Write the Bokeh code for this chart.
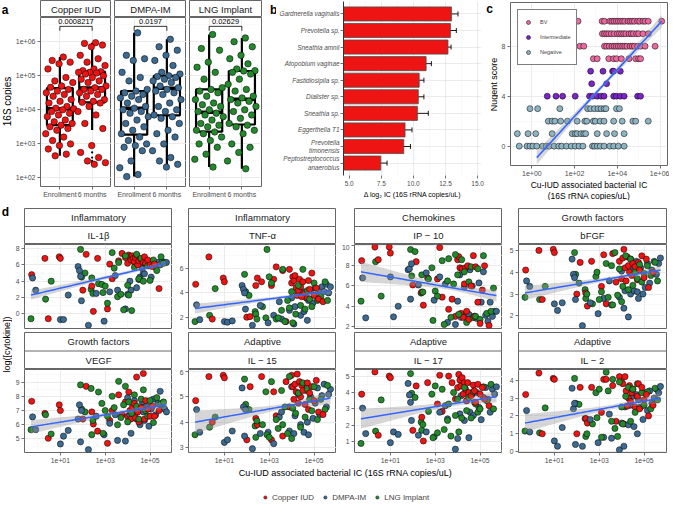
import numpy as np
from bokeh.plotting import figure
from bokeh.layouts import row, column
from bokeh.models import (Range1d, FactorRange, FixedTicker, CustomJSTickFormatter,
                          NumeralTickFormatter, Legend, LegendItem, Whisker,
                          ColumnDataSource)
from bokeh.embed import file_html
from bokeh.resources import INLINE
from bokeh.core.properties import value

FONT = "Liberation Sans"
C_CU, C_DMPA, C_LNG = "#EE1414", "#3C6A90", "#23892C"
C_BV, C_INT, C_NEG = "#E96A9F", "#7A25C8", "#8EB3C2"
BORDER = "#666666"
GRID_MAJ, GRID_MIN = "#E6E6E6", "#F3F3F3"
TICK = "#4D4D4D"
FIT_LINE, FIT_BAND = "#3366FF", "#999999"

# ---------------------------------------------------------------- data
# panel a : log10(16S copies)
groups_a = ["Copper IUD", "DMPA-IM", "LNG Implant"]
timepoints = ["Enrollment", "6 months"]
cu_enr = [5.55, 5.45, 5.4, 5.35, 5.2, 4.95, 4.85, 4.8, 4.7, 4.66, 4.6, 4.55, 4.5, 4.45, 4.4,
          4.3, 4.25, 4.2, 4.1, 4.05, 4.03, 4.0, 3.95, 3.9, 3.85, 3.8, 3.7, 3.65, 3.6, 3.55,
          3.5, 3.45, 3.4, 3.3, 3.2, 3.1, 3.0, 2.95, 2.85, 2.7, 2.65]
cu_6m = [5.97, 5.95, 5.9, 5.85, 5.6, 5.5, 5.4, 5.3, 5.2, 5.15, 5.12, 5.1, 5.1, 5.08, 5.05,
         5.0, 4.95, 4.9, 4.85, 4.8, 4.7, 4.65, 4.6, 4.6, 4.55, 4.5, 4.45, 4.4, 4.3, 4.25,
         4.22, 4.2, 4.1, 3.95, 3.85, 3.6, 3.45, 2.95, 2.75, 2.6, 2.5, 2.45, 2.4]
dmpa_enr = [6.26, 5.6, 5.5, 5.45, 5.1, 4.95, 4.85, 4.6, 4.55, 4.5, 4.45, 4.4, 4.35, 4.3, 4.2,
            4.1, 4.05, 4.0, 3.95, 3.9, 3.8, 3.7, 3.6, 3.5, 3.4, 3.3, 3.2, 3.1, 3.0, 2.95,
            2.9, 2.8, 2.5, 2.3, 2.1, 2.04]
dmpa_6m = [6.07, 5.85, 5.75, 5.6, 5.45, 5.3, 5.1, 5.05, 5.0, 4.98, 4.95, 4.9, 4.85, 4.8, 4.7,
           4.65, 4.6, 4.55, 4.5, 4.45, 4.3, 4.2, 4.1, 4.0, 3.95, 3.85, 3.8, 3.75, 3.6, 3.4,
           3.3, 3.2, 3.0, 2.8, 2.6, 2.5, 2.4, 2.32]
lng_enr = [6.21, 5.8, 5.75, 5.4, 5.25, 5.1, 4.9, 4.65, 4.6, 4.55, 4.5, 4.4, 4.3, 4.2, 4.15,
           4.1, 4.0, 3.95, 3.9, 3.85, 3.8, 3.7, 3.6, 3.55, 3.5, 3.4, 3.35, 3.3, 3.2, 3.1,
           3.0, 2.9, 2.7, 2.55, 2.32]
lng_6m = [6.11, 6.0, 5.85, 5.6, 5.5, 5.35, 5.2, 5.15, 5.14, 5.1, 5.05, 4.9, 4.75, 4.6, 4.55,
          4.4, 4.35, 4.3, 4.25, 4.2, 4.1, 4.0, 3.95, 3.85, 3.75, 3.6, 3.55, 3.5, 3.4, 3.3,
          3.0, 2.9, 2.75, 2.5, 2.27]
# box statistics (log10), order: cu_enr, cu_6m, dmpa_enr, dmpa_6m, lng_enr, lng_6m
box_lo = [2.65, 3.41, 2.04, 2.32, 2.32, 2.27]
box_q1 = [3.55, 4.22, 3.27, 3.84, 3.36, 3.57]
box_med = [4.03, 4.64, 4.05, 4.63, 3.93, 4.31]
box_q3 = [4.64, 5.12, 4.55, 5.00, 4.60, 5.14]
box_hi = [5.55, 5.97, 6.26, 6.07, 6.21, 6.11]
a_pvalues = ["0.0008217", "0.0197", "0.02629"]

# panel b
taxa = ["Gardnerella vaginalis", "Prevotella sp.", "Sneathia amnii", "Atopobium vaginae",
        "Fastidiosipila sp.", "Dialister sp.", "Sneathia sp.", "Eggerthella T1",
        "Prevotella\ntimonensis", "Peptostreptococcus\nanaerobius"]
dlog2 = [12.96, 12.88, 12.69, 10.99, 10.45, 10.38, 10.31, 9.35, 9.25, 7.46]
err_lo = [12.2, 12.2, 12.13, 10.45, 9.89, 9.84, 8.14, 8.48, 8.38, 6.66]
err_hi = [13.47, 13.34, 12.93, 11.4, 10.82, 10.82, 11.16, 9.89, 9.77, 7.95]

# panel c : log10 IC per Nugent score
nugent_ic = {
    10: [2.16, 3.29, 3.4, 3.65, 3.75, 3.85, 3.95, 4.05, 4.15, 4.25, 4.35, 4.5, 4.6, 4.7,
         4.8, 4.95, 5.05, 5.2, 5.3, 5.45, 6.08],
    9: [3.3, 3.4, 3.5, 3.6, 3.72, 3.85, 4.0, 4.1, 4.2, 4.3, 4.4, 4.55, 4.65, 4.75, 4.9,
        5.0, 5.2, 5.45],
    8: [2.25, 2.43, 3.4, 3.5, 3.62, 3.75, 3.85, 3.95, 4.05, 4.15, 4.25, 4.35, 4.45, 4.6,
        4.7, 4.8, 4.95, 5.1, 5.3, 5.77],
    7: [2.88, 3.06, 3.6, 3.83, 3.96, 4.19, 4.55, 4.86, 5.0, 5.09],
    6: [2.75, 3.33, 3.78, 3.83, 4.14],
    5: [2.8, 3.5],
    4: [0.72, 1.13, 1.44, 2.03, 2.7, 2.84, 3.06, 3.24, 3.38, 3.83, 3.96, 4.14, 4.32, 4.95, 5.09],
    3: [-0.09, 0.27, 1.31, 2.61, 2.75, 2.93, 3.1, 3.24, 3.38, 3.47, 3.96, 4.1],
    2: [0.77, 0.95, 1.08, 1.35, 1.67, 2.12, 2.48, 2.57, 2.88, 2.97, 3.2, 3.38, 3.83, 4.23,
        4.73, 4.86, 5.45],
    1: [-0.68, -0.18, 0.18, 0.95, 1.89, 2.03, 2.12, 2.3, 2.43, 2.52, 3.06, 3.5, 3.87, 4.32],
    0: [-0.59, -0.23, -0.09, 0.05, 0.23, 0.5, 0.68, 0.81, 1.04, 1.26, 1.4, 1.62, 1.85, 2.03,
        2.21, 2.39, 2.84, 2.93, 3.06, 3.2, 3.38, 3.65, 3.83, 4.05, 4.32],
}
c_classes = ["BV", "Intermediate", "Negative"]
c_class_scores = [[7, 8, 9, 10], [4, 5, 6], [0, 1, 2, 3]]
c_fit_x = [0.23, 6.08]
c_fit_y = [-0.92, 10.0]
c_band = [0.55, 0.18]  # half-width at left end, minimum

# panel d : log10 IC per sample (shared across cytokines)
ic_cu = [-0.28, 0.31, 0.46, 0.95, 1.0, 2.0, 2.15, 2.4, 2.47, 2.66, 3.1, 3.2, 3.31, 3.6, 3.75,
         3.9, 4.0, 4.05, 4.1, 4.15, 4.2, 4.25, 4.3, 4.35, 4.4, 4.45, 4.5, 4.6, 4.7, 4.75,
         4.8, 4.9, 5.0, 5.1, 5.2, 5.4]
ic_dmpa = [-0.24, -0.1, 1.0, 1.14, 1.35, 1.79, 1.85, 1.9, 1.94, 2.25, 2.6, 2.95, 3.2, 3.45,
           3.55, 3.9, 4.0, 4.1, 4.15, 4.3, 4.4, 4.5, 4.55, 4.65, 4.7, 4.75, 4.85, 4.95,
           5.05, 5.15, 5.25, 5.35, 5.45, 5.55, 5.65, 5.73]
ic_lng = [-0.31, 0.34, 0.59, 1.9, 1.95, 2.1, 2.37, 2.4, 2.45, 2.7, 2.85, 2.9, 3.0, 3.1, 3.31,
          3.4, 3.55, 3.6, 3.7, 3.82, 3.9, 4.0, 4.05, 4.18, 4.3, 4.4, 4.5, 4.6, 4.7, 4.8,
          4.9, 5.0, 5.15, 5.3, 5.49, 5.6]

cyto_names = ["IL-1β", "TNF-α", "IP − 10", "bFGF", "VEGF", "IL − 15", "IL − 17", "IL − 2"]
cyto_groups = ["Inflammatory", "Inflammatory", "Chemokines", "Growth factors",
               "Growth factors", "Adaptive", "Adaptive", "Adaptive"]

il1b_cu = [4.8, 6.8, -0.6, 7.0, 6.8, 2.9, 7.3, 3.4, 0.3, 6.8, 0.6, 6.1, 4.3, 6.5, 7.4, 6.9, 6.2, 7.2,
           7.0, 6.6, 7.1, 6.8, 6.4, 6.9, 7.2, 6.0, 6.5, 6.7, 6.3, 7.0, 6.2, 6.6, 6.0, 5.8, 6.1, 3.1]
il1b_dmpa = [4.4, 2.9, -0.7, -0.7, 2.3, 5.8, 5.3, 4.6, 1.6, -1.4, 2.5, -0.9, 2.7, 4.7, 2.9, 0.6, 2.4,
             4.0, 2.9, 6.3, 3.2, 4.2, 4.5, 5.6, 5.0, 4.9, 6.2, 5.9, 4.5, 6.1, 5.7, 6.3, 6.0, 6.4, 6.3, 6.3]
il1b_lng = [-0.6, 1.8, 4.0, 7.9, 4.5, 5.0, 3.0, 4.4, 2.5, 3.7, 3.6, 2.6, 3.4, 1.3, 7.5, 5.6, 2.1, 6.3,
            2.4, 0.5, 7.1, 3.5, 2.3, 0.4, 5.7, 7.3, 4.3, 6.8, 4.0, 6.1, 5.9, 4.1, 6.6, 5.3, 7.0, 6.2]
tnf_cu = [4.7, 6.9, 1.9, 5.2, 4.9, 2.05, 2.1, 4.6, 5.2, 4.9, 4.6, 5.1, 6.1, 5.8, 1.7, 5.9, 4.8, 5.3,
          5.0, 5.4, 4.4, 3.8, 4.2, 5.1, 4.5, 3.7, 4.9, 4.0, 3.6, 5.0, 4.3, 5.6, 3.8, 4.4, 3.5, 3.3]
tnf_dmpa = [3.05, 1.85, 1.7, 1.65, 1.75, 4.6, 4.3, 4.0, 2.7, 1.4, 3.0, 1.6, 2.2, 3.3, 1.9, 2.6, 3.6, 1.5,
            2.9, 3.9, 2.2, 4.1, 2.5, 3.6, 1.8, 3.4, 4.2, 3.2, 4.4, 3.9, 4.3, 4.5, 4.1, 4.7, 4.0, 4.5]
tnf_lng = [1.7, 2.2, 4.35, 5.5, 4.1, 3.8, 2.5, 2.3, 1.9, 2.9, 2.0, 7.5, 5.3, 4.8, 1.9, 2.0, 2.6, 5.9,
           1.7, 3.4, 2.8, 4.1, 1.6, 2.3, 4.6, 3.0, 5.9, 2.7, 4.2, 3.5, 2.9, 4.8, 3.4, 3.7, 4.9, 3.4]
ip10_cu = [8.5, 9.85, 8.6, 9.85, 9.25, 6.1, 8.4, 5.4, 4.1, 6.8, 6.7, 9.8, 4.9, 3.7, 4.7, 3.0, 8.6, 8.9,
           7.8, 3.3, 7.7, 2.9, 6.2, 7.8, 3.5, 8.0, 2.7, 6.0, 9.0, 3.0, 7.9, 4.4, 2.3, 5.6, 8.0, 2.1]
ip10_dmpa = [6.8, 2.85, 6.9, 2.95, 4.0, 7.6, 7.7, 4.7, 8.2, 6.1, 7.3, 4.6, 6.9, 6.2, 2.4, 2.2, 4.5, 7.1,
             2.9, 5.9, 3.3, 3.2, 7.6, 6.0, 2.9, 3.0, 2.8, 6.3, 4.4, 7.4, 3.1, 2.5, 4.4, 3.0, 3.5, 3.5]
ip10_lng = [4.5, 8.4, 5.0, 9.6, 7.0, 9.4, 5.3, 7.1, 5.4, 6.7, 7.8, 2.6, 5.5, 5.0, 8.5, 2.2, 6.5, 8.7,
            2.9, 6.2, 9.1, 7.1, 3.2, 8.6, 7.4, 2.4, 6.4, 7.9, 2.9, 3.0, 7.7, 2.7, 9.0, 3.3, 3.5, 5.8]
bfgf_cu = [4.1, 5.0, 2.75, 5.05, 4.9, 3.0, 4.45, 3.05, 2.45, 4.5, 3.35, 4.8, 2.55, 4.85, 3.55, 4.5, 3.7,
           4.65, 5.05, 4.2, 3.6, 4.7, 4.3, 4.0, 4.6, 3.85, 4.4, 4.25, 3.65, 4.45, 4.1, 4.75, 3.75, 4.6, 3.3, 4.0]
bfgf_dmpa = [3.6, 3.35, 2.55, 2.25, 2.6, 4.6, 3.9, 3.75, 2.75, 1.55, 2.6, 2.1, 2.8, 3.6, 2.5, 2.85, 4.05,
             2.35, 3.15, 1.95, 3.0, 4.25, 3.15, 4.5, 3.1, 2.8, 4.2, 3.0, 3.3, 4.4, 3.5, 4.1, 4.5, 3.9, 4.4, 4.65]
bfgf_lng = [2.85, 2.75, 3.35, 4.9, 3.9, 3.5, 3.2, 2.8, 3.0, 2.55, 3.8, 4.0, 2.75, 3.1, 4.4, 2.85, 4.3,
            2.5, 4.9, 2.95, 4.15, 2.65, 3.35, 4.75, 3.2, 4.6, 3.4, 4.0, 3.7, 4.35, 3.55, 3.95, 4.3, 3.85, 4.45, 3.6]
vegf_cu = [7.65, 6.8, 5.05, 7.4, 7.0, 6.4, 8.7, 6.9, 6.05, 5.55, 4.7, 6.3, 7.0, 8.1, 6.7, 7.6, 6.6, 8.3,
           7.0, 6.4, 7.2, 6.8, 7.5, 6.5, 9.35, 6.9, 6.2, 7.2, 9.6, 6.4, 7.7, 7.1, 6.6, 7.3, 6.6, 7.0]
vegf_dmpa = [6.55, 5.65, 4.65, 5.2, 5.6, 6.4, 7.4, 4.8, 7.0, 4.25, 6.6, 5.3, 6.1, 6.7, 4.9, 4.85, 7.9,
             6.7, 5.4, 7.7, 6.4, 7.0, 6.0, 7.6, 6.9, 6.3, 7.3, 5.9, 7.1, 7.8, 6.7, 7.5, 8.35, 7.2, 7.1, 6.9]
vegf_lng = [5.65, 6.7, 5.35, 8.8, 7.1, 6.9, 8.55, 5.3, 6.3, 8.3, 7.5, 5.4, 7.0, 6.6, 8.0, 7.2, 6.0, 9.05,
            6.5, 7.4, 8.7, 6.2, 7.6, 6.8, 8.1, 7.3, 6.4, 7.8, 8.45, 7.0, 6.6, 7.7, 6.15, 7.9, 7.5, 7.6]
il15_cu = [4.85, 5.8, 4.0, 5.85, 5.75, 3.3, 5.4, 4.15, 3.9, 5.8, 3.3, 5.2, 4.25, 3.45, 5.6, 4.6, 5.85,
           5.4, 4.9, 5.5, 5.2, 5.9, 4.75, 5.6, 5.0, 5.45, 5.25, 4.7, 5.55, 4.5, 5.15, 5.4, 4.85, 5.65, 4.4, 4.3]
il15_dmpa = [4.5, 3.6, 3.2, 3.3, 3.65, 5.35, 4.6, 3.45, 4.5, 2.95, 3.55, 3.6, 3.15, 4.2, 4.4, 3.65, 5.4,
             3.55, 4.25, 5.1, 3.9, 5.5, 3.6, 5.25, 4.0, 3.5, 5.0, 4.15, 4.75, 5.35, 4.3, 5.05, 5.5, 4.6, 5.1, 5.3]
il15_lng = [3.5, 3.8, 4.2, 5.7, 4.7, 4.5, 3.85, 3.4, 4.05, 3.9, 5.2, 3.5, 3.4, 5.6, 4.1, 3.75, 5.25,
            3.9, 4.6, 3.55, 5.8, 3.35, 4.55, 4.35, 5.15, 3.8, 5.55, 4.2, 5.3, 4.9, 4.45, 5.4, 4.1, 4.9, 4.5, 5.45]
il17_cu = [3.9, 5.25, 1.4, 5.0, 4.9, 1.7, 4.4, 2.5, 1.05, 4.6, 3.3, 5.05, 2.85, 5.0, 4.6, 3.6, 4.3, 5.1,
           4.75, 4.4, 4.9, 3.9, 4.6, 4.2, 3.5, 4.6, 4.0, 3.8, 4.45, 4.1, 3.4, 4.5, 3.9, 4.3, 3.6, 3.2]
il17_dmpa = [3.05, 1.5, 0.95, 1.6, 1.45, 4.55, 3.85, 3.4, 2.3, 1.4, 1.6, 1.3, 2.8, 3.2, 2.4, 0.55, 1.2,
             2.7, 3.8, 2.3, 3.5, 1.25, 2.8, 3.9, 2.6, 3.4, 4.0, 3.1, 2.35, 3.7, 4.3, 3.6, 2.8, 4.2, 3.9, 4.35]
il17_lng = [0.9, 1.65, 3.55, 5.15, 3.95, 3.7, 2.2, 1.7, 2.05, 2.85, 3.9, 1.25, 4.4, 1.55, 4.2, 1.75, 2.3,
            3.3, 1.35, 4.0, 2.6, 3.6, 1.6, 2.45, 4.3, 2.9, 3.7, 2.45, 4.05, 3.3, 2.8, 3.0, 4.35, 3.5, 4.5, 3.0]
il2_cu = [3.2, 4.4, 1.0, 4.1, 4.05, 1.0, 3.6, 1.85, 1.6, 3.6, 2.2, 4.05, 4.05, 3.7, 1.7, 4.2, 3.9, 3.8,
          1.55, 4.2, 3.4, 2.55, 3.0, 3.7, 2.8, 3.3, 3.5, 2.5, 3.1, 3.8, 2.4, 3.6, 2.9, 3.2, 2.0, 2.6]
il2_dmpa = [2.3, 1.1, 0.6, 0.3, 1.35, 3.55, 2.4, 2.7, 0.4, 0.3, 1.8, 0.5, 0.8, 2.1, 0.75, 0.1, 1.6, 0.3,
            2.5, 1.5, 2.6, 3.1, 1.4, 3.2, 1.0, 2.9, 2.5, 1.8, 3.3, 2.3, 3.4, 2.7, 3.0, 3.5, 3.3, 3.65]
il2_lng = [1.15, 1.05, 2.45, 4.1, 2.7, 2.65, 1.85, 0.85, 1.0, 1.55, 3.3, 1.9, 3.5, 0.8, 4.45, 3.4, 1.7,
           4.05, 1.3, 0.85, 3.9, 2.5, 1.55, 3.1, 3.6, 1.7, 3.5, 2.2, 3.8, 2.45, 3.3, 2.6, 3.35, 2.4, 3.55, 2.9]

cyto_values = [(il1b_cu, il1b_dmpa, il1b_lng), (tnf_cu, tnf_dmpa, tnf_lng),
               (ip10_cu, ip10_dmpa, ip10_lng), (bfgf_cu, bfgf_dmpa, bfgf_lng),
               (vegf_cu, vegf_dmpa, vegf_lng), (il15_cu, il15_dmpa, il15_lng),
               (il17_cu, il17_dmpa, il17_lng), (il2_cu, il2_dmpa, il2_lng)]
fit_left = [2.3, 2.75, 7.4, 3.05, 5.85, 4.0, 2.4, 1.6]
fit_right = [6.2, 4.15, 5.05, 4.1, 7.4, 4.95, 3.75, 3.0]
band_left = [0.55, 0.4, 1.0, 0.32, 0.48, 0.45, 0.6, 0.5]
band_mid = [0.2, 0.12, 0.25, 0.08, 0.12, 0.1, 0.15, 0.13]
d_yrange = [(-1.8, 8.5), (1.14, 7.9), (1.8, 10.1), (1.42, 5.27), (4.05, 9.88), (2.8, 6.08),
            (0.35, 5.4), (-0.05, 4.6)]
d_yticks = [[0, 2, 4, 6, 8], [2, 4, 6], [2, 4, 6, 8, 10], [2, 3, 4, 5], [5, 6, 7, 8, 9],
            [3, 4, 5, 6], [1, 2, 3, 4, 5], [0, 1, 2, 3, 4]]

# ---------------------------------------------------------------- helpers
LOG_CODE = "const e = Math.round(Math.log10(tick)); return '1e+' + (e < 10 ? '0' : '') + e;"


def new_fig(w, h, xr, yr, mbl=0, mbr=0, mbt=0, mbb=0, **kw):
    p = figure(width=w, height=h, x_range=xr, y_range=yr, output_backend="svg",
               toolbar_location=None, tools="", min_border_left=mbl, min_border_right=mbr,
               min_border_top=mbt, min_border_bottom=mbb, **kw)
    p.background_fill_color = "white"
    p.border_fill_color = "white"
    p.outline_line_color = BORDER
    p.outline_line_width = 1
    return p


def blank_fig(w, h, mbl=0, mbr=0):
    """A figure without axes used to hold free text (panel letters, titles)."""
    f = new_fig(w, h, Range1d(0, 1), Range1d(0, h), mbl=mbl, mbr=mbr,
                x_axis_location=None, y_axis_location=None)
    f.outline_line_color = None
    f.grid.visible = False
    return f


def add_text(f, x, y, s, size="9px", style="normal", angle=0.0, align="center"):
    f.text(x=[x], y=[y], text=[s], angle=angle, text_align=align, text_baseline="middle",
           text_font=value(FONT), text_font_size=size, text_font_style=style,
           text_color="black")


def style_axes(p, fs="6.5px"):
    for ax in p.axis:
        ax.axis_line_color = None
        ax.major_tick_line_color = TICK
        ax.major_tick_line_width = 0.8
        ax.major_tick_out = 3
        ax.major_tick_in = 0
        ax.minor_tick_line_color = None
        ax.major_label_text_font = FONT
        ax.major_label_text_font_size = fs
        ax.major_label_text_color = TICK
        ax.major_label_standoff = 1
        ax.axis_label_text_font = FONT
        ax.axis_label_text_font_style = "normal"
        ax.axis_label_text_color = "black"
        ax.axis_label_standoff = 2


def style_grid(grids, ticker=None):
    for g in grids:
        if ticker is not None:
            g.ticker = ticker
        g.grid_line_color = GRID_MAJ
        g.grid_line_width = 0.8
        g.minor_grid_line_color = GRID_MIN
        g.minor_grid_line_width = 0.5


def strip_fig(w, h, mbl, mbr, mbt, labels, fs="9.5px"):
    n = len(labels)
    s = new_fig(w, h, Range1d(0, 1), Range1d(0, n), mbl=mbl, mbr=mbr, mbt=mbt,
                x_axis_location=None, y_axis_location=None)
    s.grid.visible = False
    for k, lab in enumerate(labels):
        s.text(x=[0.5], y=[n - k - 0.5], text=[lab], text_align="center",
               text_baseline="middle", text_font=value(FONT), text_font_size=fs,
               text_color="#1A1A1A")
    if n > 1:
        s.segment(x0=[0], x1=[1], y0=[1], y1=[1], line_color=BORDER, line_width=1)
    return s


def jitter(n, half):
    return (((np.arange(n) + 1) * 0.6180339887) % 1.0 - 0.5) * 2 * half


TOP_H = 200

# ---------------------------------------------------------------- panel a
labA = blank_fig(12, TOP_H)
add_text(labA, 0.1, TOP_H - 9, "a", size="12px", style="bold", align="left")
add_text(labA, 0.55, TOP_H - 101, "16S copies", size="10px", angle=np.pi / 2)

a_data = [(cu_enr, cu_6m, C_CU), (dmpa_enr, dmpa_6m, C_DMPA), (lng_enr, lng_6m, C_LNG)]
a_mbl = [27, 3, 3]
a_mbr = [0, 0, 3]
a_cols = []
for k, (enr, m6, col) in enumerate(a_data):
    w = a_mbl[k] + 72 + a_mbr[k]
    s = strip_fig(w, 17, a_mbl[k], a_mbr[k], 0, [groups_a[k]], fs="9.5px")
    p = new_fig(w, TOP_H - 17, Range1d(0.4, 2.6), Range1d(10 ** 1.75, 10 ** 6.71),
                mbl=a_mbl[k], mbr=a_mbr[k], mbt=0, mbb=14, y_axis_type="log",
                y_axis_location="left" if k == 0 else None)
    xt = FixedTicker(ticks=[1, 2])
    yt = FixedTicker(ticks=[1e2, 1e3, 1e4, 1e5, 1e6],
                     minor_ticks=[10 ** 2.5, 10 ** 3.5, 10 ** 4.5, 10 ** 5.5, 10 ** 6.5])
    p.xaxis.ticker = xt
    p.xaxis.major_label_overrides = {1: timepoints[0], 2: timepoints[1]}
    style_grid(p.xgrid, xt)
    style_grid(p.ygrid, yt)
    if k == 0:
        p.yaxis.ticker = yt
        p.yaxis.formatter = CustomJSTickFormatter(code=LOG_CODE)
    style_axes(p, "7px")
    j0 = 2 * k
    xs = [1, 2]
    lo = [10 ** v for v in box_lo[j0:j0 + 2]]
    q1 = [10 ** v for v in box_q1[j0:j0 + 2]]
    md = [10 ** v for v in box_med[j0:j0 + 2]]
    q3 = [10 ** v for v in box_q3[j0:j0 + 2]]
    hi = [10 ** v for v in box_hi[j0:j0 + 2]]
    p.segment(x0=xs, x1=xs, y0=q3, y1=hi, line_color="black", line_width=2.2)
    p.segment(x0=xs, x1=xs, y0=lo, y1=q1, line_color="black", line_width=2.2)
    p.quad(left=[x - 0.4 for x in xs], right=[x + 0.4 for x in xs], bottom=q1, top=q3,
           fill_color=None, line_color="black", line_width=2.2)
    p.segment(x0=[x - 0.4 for x in xs], x1=[x + 0.4 for x in xs], y0=md, y1=md,
              line_color="black", line_width=3.5)
    for xi, vals in zip(xs, (enr, m6)):
        j = j0 + xi - 1
        out = [10 ** v for v in vals if v < box_lo[j] - 1e-9 or v > box_hi[j] + 1e-9]
        if out:
            p.scatter(x=[xi] * len(out), y=out, size=2.2, fill_color="black", line_color=None)
        p.scatter(x=xi + jitter(len(vals), 0.45), y=[10 ** v for v in vals], size=6.5,
                  fill_color=col, line_color="black", line_width=0.5)
    p.line(x=[1, 1, 2, 2], y=[10 ** 6.32, 10 ** 6.45, 10 ** 6.45, 10 ** 6.32],
           line_color="black", line_width=0.8)
    p.text(x=[1.5], y=[10 ** 6.58], text=[a_pvalues[k]], text_align="center",
           text_baseline="middle", text_font=value(FONT), text_font_size="7.5px",
           text_color="black")
    a_cols.append(column(s, p))

# ---------------------------------------------------------------- panel b
labB = blank_fig(12, TOP_H)
add_text(labB, 0.45, TOP_H - 9, "b", size="12px", style="bold", align="left")

PB_W, PB_MBL, PB_MBR = 209, 66, 4
pb = new_fig(PB_W, 188, Range1d(4.56, 15.3),
             FactorRange(*taxa[::-1], range_padding=0.25, range_padding_units="absolute"),
             mbl=PB_MBL, mbr=PB_MBR, mbt=1, mbb=12)
pb.outline_line_color = None
bt = FixedTicker(ticks=[5, 7.5, 10, 12.5, 15], minor_ticks=[6.25, 8.75, 11.25, 13.75])
pb.xaxis.ticker = bt
pb.xaxis.formatter = NumeralTickFormatter(format="0.0")
style_grid(pb.xgrid, bt)
style_grid(pb.ygrid)
pb.hbar(y=taxa, left=0, right=dlog2, height=0.85, fill_color=C_CU, line_color="#4D4D4D",
        line_width=0.8)
wsrc = ColumnDataSource(dict(y=taxa, lo=err_lo, hi=err_hi))
wh = Whisker(source=wsrc, base="y", lower="lo", upper="hi", dimension="width",
             line_color="black", line_width=0.9)
for head in (wh.upper_head, wh.lower_head):
    head.size = 5
    head.line_color = "black"
    head.line_width = 0.9
pb.add_layout(wh)
style_axes(pb, "6.5px")
pb.yaxis.major_label_text_font_style = "italic"
pb.yaxis.major_label_text_font_size = "6.4px"
pb.yaxis.axis_line_color = "#333333"
pbt = blank_fig(PB_W, TOP_H - 188, mbl=PB_MBL, mbr=PB_MBR)
add_text(pbt, 0.5, 6, "Δ log₂ IC (16S rRNA copies/uL)", size="7px")

# ---------------------------------------------------------------- panel c
labC = blank_fig(13, TOP_H)
add_text(labC, 0.05, TOP_H - 8, "c", size="12px", style="bold", align="left")
add_text(labC, 0.62, TOP_H - 84, "Nugent score", size="9px", angle=np.pi / 2)

PC_W, PC_MBL, PC_MBR = 171, 10, 2
pc = new_fig(PC_W, 178, Range1d(10 ** -1.0, 10 ** 6.35), Range1d(-1.55, 11.5),
             mbl=PC_MBL, mbr=PC_MBR, mbt=2, mbb=12, x_axis_type="log")
ct = FixedTicker(ticks=[1, 1e2, 1e4, 1e6], minor_ticks=[10, 1e3, 1e5])
cyt = FixedTicker(ticks=[0, 4, 8], minor_ticks=[-2, 2, 6, 10])
pc.xaxis.ticker = ct
pc.xaxis.formatter = CustomJSTickFormatter(code=LOG_CODE)
pc.yaxis.ticker = cyt
style_grid(pc.xgrid, ct)
style_grid(pc.ygrid, cyt)
c_colors = [C_BV, C_INT, C_NEG]
c_renderers = {}
for cls, scores, col in list(zip(c_classes, c_class_scores, c_colors))[::-1]:
    xs, ys = [], []
    for sc in scores:
        xs += [10 ** v for v in nugent_ic[sc]]
        ys += [sc] * len(nugent_ic[sc])
    c_renderers[cls] = pc.scatter(x=xs, y=ys, size=6, fill_color=col, line_color="black",
                                  line_width=0.5)
cx = np.linspace(c_fit_x[0], c_fit_x[1], 60)
cyv = c_fit_y[0] + (cx - c_fit_x[0]) * (c_fit_y[1] - c_fit_y[0]) / (c_fit_x[1] - c_fit_x[0])
cxc = 3.3
ck = np.sqrt(c_band[0] ** 2 - c_band[1] ** 2) / (cxc - c_fit_x[0])
chw = np.sqrt(c_band[1] ** 2 + (ck * (cx - cxc)) ** 2)
pc.varea(x=10 ** cx, y1=cyv - chw, y2=cyv + chw, fill_color=FIT_BAND, fill_alpha=0.4)
pc.line(x=10 ** cx, y=cyv, line_color=FIT_LINE, line_width=1.6)
leg_c = Legend(items=[LegendItem(label=c, renderers=[c_renderers[c]]) for c in c_classes],
               location="top_left", margin=7, padding=5, spacing=1, glyph_width=10,
               glyph_height=14, label_height=14, label_standoff=7,
               label_text_font=FONT, label_text_font_size="5.5px",
               border_line_color="black", border_line_width=1.2,
               background_fill_color="white", background_fill_alpha=1)
pc.add_layout(leg_c, "center")
style_axes(pc, "7px")
pct = blank_fig(PC_W, TOP_H - 178, mbl=PC_MBL, mbr=PC_MBR)
add_text(pct, 0.5, 16, "Cu-IUD associated bacterial IC", size="8.5px")
add_text(pct, 0.5, 5, "(16S rRNA copies/uL)", size="8.5px")

# ---------------------------------------------------------------- panel d
col_mbl = [12, 16, 18, 16]
col_mbr = [0, 0, 0, 3]
FW = 148
d_strips, d_plots = [], []
xt_d = FixedTicker(ticks=[10, 1e3, 1e5], minor_ticks=[1, 1e2, 1e4, 1e6])
groups_ic = [ic_cu, ic_dmpa, ic_lng]
group_cols = [C_CU, C_DMPA, C_LNG]
all_ic = ic_cu + ic_dmpa + ic_lng
xmin, xmax = min(all_ic), max(all_ic)
for i in range(8):
    c = i % 4
    r = i // 4
    w = col_mbl[c] + FW + col_mbr[c]
    s = strip_fig(w, 44 if r == 0 else 37, col_mbl[c], col_mbr[c], 8 if r == 0 else 0,
                  [cyto_groups[i], cyto_names[i]])
    p = new_fig(w, 88 if r == 0 else 97, Range1d(10 ** -0.6, 10 ** 6.0),
                Range1d(*d_yrange[i]), mbl=col_mbl[c], mbr=col_mbr[c], mbt=0,
                mbb=4 if r == 0 else 14, x_axis_type="log",
                x_axis_location="below" if r == 1 else None)
    ticks = d_yticks[i]
    step = ticks[1] - ticks[0]
    minor = [ticks[0] - step / 2] + [t + step / 2 for t in ticks]
    yt = FixedTicker(ticks=ticks, minor_ticks=minor)
    p.yaxis.ticker = yt
    style_grid(p.ygrid, yt)
    style_grid(p.xgrid, xt_d)
    if r == 1:
        p.xaxis.ticker = xt_d
        p.xaxis.formatter = CustomJSTickFormatter(code=LOG_CODE)
    style_axes(p, "6.8px")
    xs, ys, cols = [], [], []
    vals = cyto_values[i]
    for n in range(len(ic_cu)):
        for g in range(3):
            xs.append(10 ** groups_ic[g][n])
            ys.append(vals[g][n])
            cols.append(group_cols[g])
    p.scatter(x=xs, y=ys, size=6.2, fill_color=cols, line_color="black", line_width=0.5)
    fx = np.linspace(xmin, xmax, 60)
    fy = fit_left[i] + (fx - xmin) * (fit_right[i] - fit_left[i]) / (xmax - xmin)
    xc = 3.6
    kk = np.sqrt(band_left[i] ** 2 - band_mid[i] ** 2) / (xc - xmin)
    hw = np.sqrt(band_mid[i] ** 2 + (kk * (fx - xc)) ** 2)
    p.varea(x=10 ** fx, y1=fy - hw, y2=fy + hw, fill_color=FIT_BAND, fill_alpha=0.4)
    p.line(x=10 ** fx, y=fy, line_color=FIT_LINE, line_width=1.5)
    d_strips.append(s)
    d_plots.append(p)

# left label column for d
labD = blank_fig(12, 266)
add_text(labD, 0.1, 255, "d", size="12px", style="bold", align="left")
add_text(labD, 0.5, 122, "log([cytokine])", size="9px", angle=np.pi / 2)

# bottom: shared x title and legend
bf = new_fig(669, 36, Range1d(0, 1), Range1d(0, 36), mbl=24, mbr=3,
             x_axis_location=None, y_axis_location=None)
bf.outline_line_color = None
bf.grid.visible = False
add_text(bf, 0.5, 30, "Cu-IUD associated bacterial IC (16S rRNA copies/uL)", size="9px")
leg_items = []
for g, col in zip(groups_a, group_cols):
    rr = bf.scatter(x=[-5], y=[-5], size=6, fill_color=col, line_color="black",
                    line_width=0.5)
    leg_items.append(LegendItem(label=g, renderers=[rr]))
leg_d = Legend(items=leg_items, orientation="horizontal", location="bottom_center",
               margin=0, padding=2, spacing=7, glyph_width=8, glyph_height=10,
               label_height=10, label_standoff=3, label_text_font=FONT,
               label_text_font_size="8px", border_line_color=None,
               background_fill_alpha=0)
bf.add_layout(leg_d, "center")

# ---------------------------------------------------------------- layout
top = row(labA, a_cols[0], a_cols[1], a_cols[2], labB, column(pb, pbt), labC,
          column(pc, pct))
dgrid = column(row(*d_strips[:4]), row(*d_plots[:4]), row(*d_strips[4:]), row(*d_plots[4:]))
layout = column(top, row(labD, dgrid), bf)

open("out.html", "w").write(file_html(layout, INLINE))
